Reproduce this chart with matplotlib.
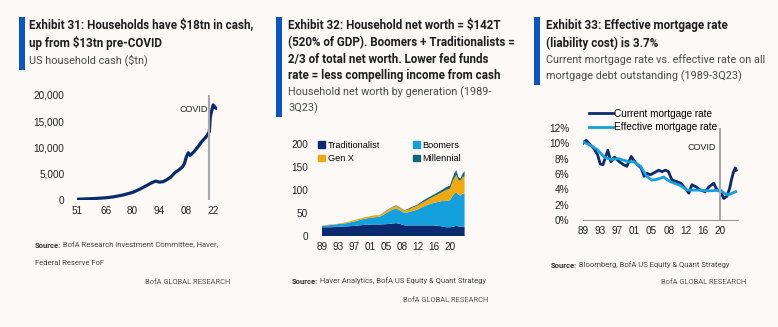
import matplotlib
matplotlib.use("Agg")
import matplotlib.pyplot as plt
from matplotlib.patches import Rectangle
from matplotlib.lines import Line2D

W, H = 778, 327
BG = '#fdf9f7'
NAVY = '#0b2a6f'
LIGHT = '#14a0dc'
GENX = '#f2a90f'
MILL = '#11677a'
BAR = '#0a55c4'

TITLE_FONT = ['Roboto', 'DejaVu Sans']
TICK_FONT = ['Liberation Sans', 'DejaVu Sans']

# Exhibit 31: US household cash ($bn)
cash_years = [1951, 1955, 1960, 1966, 1970, 1975, 1980, 1984, 1988, 1990, 1992, 1994,
              1996, 1998, 2000, 2002, 2004, 2006, 2007, 2008, 2009, 2010, 2012, 2014,
              2016, 2018, 2019, 2020, 2020.5, 2021, 2021.5, 2022, 2022.5, 2023, 2023.5]
cash = [150, 200, 280, 420, 600, 950, 1450, 2100, 2900, 3300, 3600, 3400,
        3500, 3900, 4400, 5200, 5700, 6300, 6900, 8200, 9000, 8500, 9200, 10100,
        11100, 11900, 12400, 13000, 15800, 16600, 17400, 18100, 17900, 17600, 17500]
cash_ticks = [1951, 1966, 1980, 1994, 2008, 2022]
cash_labels = ['51', '66', '80', '94', '08', '22']

# Exhibit 32: household net worth by generation ($T)
nw_years = [1989, 1991, 1993, 1995, 1997, 1999, 2001, 2003, 2005, 2006, 2007, 2008, 2009,
            2010, 2012, 2014, 2016, 2018, 2019, 2020, 2020.5, 2021, 2021.5, 2022, 2022.5,
            2023, 2023.5]
traditionalist = [19, 19, 20, 21, 22, 24, 25, 25, 26, 27, 28, 26, 23,
                  23, 23, 23, 23, 21, 19, 19, 20, 21, 22, 21, 20, 20, 20]
boomers = [3, 5, 6, 7, 10, 13, 15, 17, 26, 30, 32, 29, 27,
           29, 34, 43, 49, 55, 57, 59, 66, 71, 73, 69, 68, 72, 73]
genx = [1, 1, 1, 2, 3, 3, 4, 4, 5, 5, 6, 5, 5,
        6, 9, 10, 14, 19, 24, 25, 30, 34, 38, 32, 32, 36, 37]
millennial = [0, 0, 0, 0, 0, 0, 0, 0, 1, 1, 1, 1, 1,
              2, 2, 4, 4, 5, 6, 7, 8, 10, 10, 6, 5, 7, 11]

# quarterly date axis: labels fall on evenly spaced quarters
yr_ticks = [1989, 1992.9, 1996.8, 2000.6, 2004.5, 2008.4, 2012.3, 2016.1, 2020]
yr_labels = ['89', '93', '97', '01', '05', '08', '12', '16', '20']

# Exhibit 33: mortgage rates (%)
cur_years = [1989.0, 1989.7, 1990.7, 1991.6, 1992.3, 1992.9, 1993.5, 1994.6, 1995.3, 1996.1,
             1997.2, 1998.2, 1998.9, 1999.9, 2000.7, 2001.3, 2002.1, 2002.8, 2003.4, 2004.2,
             2004.9, 2006.1, 2006.8, 2007.6, 2008.3, 2009.1, 2010.2, 2011.1, 2012.1, 2012.9,
             2013.6, 2014.6, 2015.5, 2016.6, 2017.4, 2018.5, 2019.2, 2020.0, 2020.8, 2021.5,
             2022.1, 2022.5, 2023.0, 2023.4, 2023.6]
current_rate = [10.0, 10.4, 9.8, 9.2, 8.5, 7.3, 7.2, 9.1, 7.6, 8.2,
                7.6, 7.2, 7.0, 8.3, 7.6, 7.2, 6.8, 5.7, 6.1, 5.9,
                6.1, 6.5, 6.3, 6.5, 6.3, 5.2, 5.0, 4.8, 4.1, 3.5,
                4.6, 4.3, 3.9, 3.7, 4.3, 4.8, 4.0, 3.7, 2.8, 3.1,
                4.1, 5.2, 6.3, 6.8, 6.5]
eff_years = [1989.0, 1990.5, 1992.2, 1993.8, 1995.2, 1997.0, 1999.3, 2000.5, 2002.0, 2003.4,
             2004.5, 2005.7, 2007.2, 2008.7, 2011.0, 2012.5, 2014.8, 2017.7, 2020.0, 2021.1,
             2021.9, 2023.5]
effective_rate = [10.2, 9.8, 9.2, 8.2, 7.9, 8.0, 7.6, 7.6, 7.0, 5.7,
                  5.2, 5.3, 5.6, 5.0, 4.5, 3.9, 3.9, 3.8, 3.9, 3.4,
                  3.3, 3.7]


def fx(x):
    return x / W


def fy(y):
    return 1 - y / H


def box(x0, y_top, x1, y_bot):
    return [fx(x0), fy(y_bot), fx(x1) - fx(x0), (y_bot - y_top) / H]


fig = plt.figure(figsize=(W / 100, H / 100), dpi=100, facecolor=BG)


def header(xbar, ybar0, ybar1, xtext, lines):
    fig.patches.append(Rectangle((fx(xbar), fy(ybar1)), 6 / W, (ybar1 - ybar0) / H,
                                 transform=fig.transFigure, color=BAR, lw=0))
    for y, txt, bold in lines:
        fig.text(fx(xtext), fy(y), txt, family=TITLE_FONT, fontsize=8.4 if bold else 7.8,
                 fontweight='bold' if bold else 'normal',
                 color='#1e1e1e' if bold else '#4a4a4a', va='center', ha='left')


def source(x, y, rest, extra=None):
    t = fig.text(fx(x), fy(y), 'Source:', family=TITLE_FONT, fontsize=5.5,
                 fontweight='bold', color='#333333', va='center')
    plt.annotate(' ' + rest, xy=(1, 0.5), xycoords=t, va='center', ha='left',
                 family=TITLE_FONT, fontsize=5.5, color='#444444',
                 annotation_clip=False)
    if extra:
        fig.text(fx(x), fy(extra[1]), extra[0], family=TITLE_FONT, fontsize=5.5,
                 color='#444444', va='center')


def brand(xr, y):
    fig.text(fx(xr), fy(y), 'BofA GLOBAL RESEARCH', family=TITLE_FONT, fontsize=5.4,
             color='#555555', ha='right', va='center')


def style(ax):
    ax.set_facecolor('none')
    for s in ['top', 'right', 'left']:
        ax.spines[s].set_visible(False)
    ax.spines['bottom'].set_color('#9a9a9a')
    ax.tick_params(length=0, labelsize=7.2, colors='#222222', pad=4)
    for lab in ax.get_xticklabels() + ax.get_yticklabels():
        lab.set_family(TICK_FONT)


# ---- Exhibit 31
header(19, 17, 70, 29, [(25, 'Exhibit 31: Households have $18tn in cash,', True),
                        (43, 'up from $13tn pre-COVID', True),
                        (60, 'US household cash ($tn)', False)])
ax1 = fig.add_axes(box(77, 95, 217, 200))
ax1.plot(cash_years, cash, color=NAVY, lw=2.3)
ax1.axvline(2020, color='#a8a8a8', lw=1.5)
ax1.text(2019.0, 17300, 'COVID', ha='right', va='center', fontsize=6.5,
         family=TICK_FONT, color='#222222')
ax1.set_xlim(1951, 2024)
ax1.set_ylim(0, 20000)
ax1.set_yticks([0, 5000, 10000, 15000, 20000])
ax1.set_yticklabels(['0', '5,000', '10,000', '15,000', '20,000'])
ax1.set_xticks(cash_ticks)
ax1.set_xticklabels(cash_labels)
style(ax1)
ax1.spines['bottom'].set_visible(False)
ax1.tick_params(axis='y', pad=9)
source(35, 245, 'BofA Research Investment Committee, Haver,',
       ('Federal Reserve FoF', 263))
brand(230, 282)

# ---- Exhibit 32
header(276, 17, 117, 288, [(25, 'Exhibit 32: Household net worth = $142T', True),
                           (43, '(520% of GDP). Boomers + Traditionalists =', True),
                           (60, '2/3 of total net worth. Lower fed funds', True),
                           (76, 'rate = less compelling income from cash', True),
                           (92, 'Household net worth by generation (1989-', False),
                           (108, '3Q23)', False)])
ax2 = fig.add_axes(box(322, 144, 465, 236))
ax2.stackplot(nw_years, traditionalist, boomers, genx, millennial,
              colors=[NAVY, LIGHT, GENX, MILL], lw=0)
ax2.set_xlim(1989, 2023.6)
ax2.set_ylim(0, 200)
ax2.set_yticks([0, 50, 100, 150, 200])
ax2.set_xticks(yr_ticks)
ax2.set_xticklabels(yr_labels)
style(ax2)
ax2.spines['bottom'].set_visible(False)
ax2.tick_params(axis='y', pad=10)
handles = [Rectangle((0, 0), 1, 1, color=c) for c in [NAVY, GENX, LIGHT, MILL]]
names = ['Traditionalist', 'Gen X', 'Boomers', 'Millennial']
fig.legend(handles, names, ncol=2, loc='upper left',
           bbox_to_anchor=(fx(318), fy(141)), frameon=False,
           prop={'family': TICK_FONT, 'size': 6.6}, handlelength=0.75,
           handleheight=0.75, handletextpad=0.3, columnspacing=3.6,
           labelspacing=0.45, borderaxespad=0, borderpad=0)
source(292, 281, 'Haver Analytics, BofA US Equity & Quant Strategy')
brand(488, 300)

# ---- Exhibit 33
header(534, 17, 85, 546, [(25, 'Exhibit 33: Effective mortgage rate', True),
                          (43, '(liability cost) is 3.7%', True),
                          (60, 'Current mortgage rate vs. effective rate on all', False),
                          (76, 'mortgage debt outstanding (1989-3Q23)', False)])
ax3 = fig.add_axes(box(583, 128, 738, 220))
ax3.plot(cur_years, current_rate, color=NAVY, lw=2)
ax3.plot(eff_years, effective_rate, color=LIGHT, lw=2)
ax3.axvline(2020, color='#a8a8a8', lw=1.5)
ax3.text(2019.0, 9.5, 'COVID', ha='right', va='center', fontsize=6.5,
         family=TICK_FONT, color='#222222')
ax3.set_xlim(1989, 2024)
ax3.set_ylim(0, 12)
ax3.set_yticks(range(0, 13, 2))
ax3.set_yticklabels(['%d%%' % v for v in range(0, 13, 2)])
ax3.set_xticks(yr_ticks)
ax3.set_xticklabels(yr_labels)
style(ax3)
ax3.tick_params(axis='y', pad=10)
fig.legend(handles=[Line2D([], [], color=NAVY, lw=2), Line2D([], [], color=LIGHT, lw=2)],
           labels=['Current mortgage rate', 'Effective mortgage rate'],
           loc='upper left', bbox_to_anchor=(fx(589), fy(109)), frameon=False,
           prop={'family': TICK_FONT, 'size': 7.2}, handlelength=2.4,
           handletextpad=0.1, labelspacing=0.35, borderaxespad=0, borderpad=0)
source(551, 265, 'Bloomberg, BofA US Equity & Quant Strategy')
brand(746, 283)

fig.savefig('out.png', dpi=100, facecolor=BG)
